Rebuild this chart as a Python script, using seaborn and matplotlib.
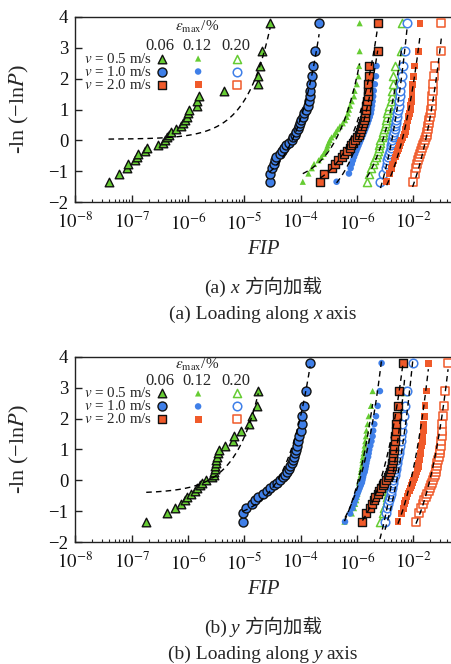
import numpy as np
import pandas as pd
import matplotlib
matplotlib.use("Agg")
import matplotlib.pyplot as plt
import seaborn as sns
from matplotlib.ticker import FixedLocator, FixedFormatter, LogLocator, NullFormatter

sns.set_theme(style="ticks")
plt.rcParams["font.family"] = ["Liberation Serif", "Noto Sans CJK SC"]
plt.rcParams["mathtext.fontset"] = "stix"
plt.rcParams["axes.edgecolor"] = "#222222"
plt.rcParams["axes.linewidth"] = 1.0

# -ln(-ln P) plotting positions (median ranks, 31 specimens)
y_rank = [-1.336, -1.070, -0.898, -0.760, -0.642, -0.534, -0.435, -0.341,
          -0.250, -0.161, -0.074, 0.013, 0.100, 0.187, 0.276, 0.367, 0.460,
          0.556, 0.657, 0.763, 0.876, 0.996, 1.126, 1.268, 1.427, 1.608,
          1.819, 2.076, 2.409, 2.888, 3.792]

speeds = ["0.5", "1.0", "2.0"]
strains = ["0.06", "0.12", "0.20"]

# log10(FIP), loading along x
a_v05_e006 = [-7.41, -7.23, -7.08, -7.07, -6.94, -6.91, -6.89, -6.76, -6.73, -6.54, -6.44,
              -6.40, -6.37, -6.33, -6.30, -6.21, -6.12, -6.08, -6.05, -6.02, -5.99, -5.98,
              -5.84, -5.83, -5.80, -5.36, -4.76, -4.75, -4.72, -4.69, -4.54]
a_v05_e012 = [-3.96, -3.86, -3.80, -3.76, -3.68, -3.63, -3.59, -3.56, -3.53, -3.52, -3.50,
              -3.48, -3.45, -3.40, -3.37, -3.34, -3.30, -3.25, -3.21, -3.18, -3.16, -3.14,
              -3.12, -3.09, -3.05, -3.04, -3.00, -2.97, -2.96, -2.95, -2.95]
a_v05_e020 = [-2.82, -2.78, -2.75, -2.72, -2.69, -2.66, -2.64, -2.62, -2.61, -2.60, -2.59,
              -2.58, -2.56, -2.54, -2.53, -2.51, -2.50, -2.49, -2.48, -2.47, -2.46, -2.44,
              -2.42, -2.40, -2.38, -2.37, -2.36, -2.35, -2.33, -2.21, -2.20]
a_v10_e006 = [-4.55, -4.55, -4.50, -4.48, -4.46, -4.44, -4.36, -4.33, -4.29, -4.25, -4.20,
              -4.16, -4.13, -4.10, -4.08, -4.05, -4.03, -4.01, -3.99, -3.96, -3.93, -3.90,
              -3.87, -3.85, -3.84, -3.83, -3.82, -3.80, -3.77, -3.75, -3.67]
a_v10_e012 = [-3.36, -3.14, -3.11, -3.09, -3.07, -3.05, -3.03, -3.01, -2.99, -2.97, -2.95,
              -2.93, -2.91, -2.89, -2.87, -2.85, -2.83, -2.81, -2.79, -2.77, -2.75, -2.74,
              -2.73, -2.72, -2.71, -2.70, -2.68, -2.66, -2.65, -2.63, -2.63]
a_v10_e020 = [-2.58, -2.53, -2.49, -2.47, -2.46, -2.44, -2.43, -2.41, -2.40, -2.39, -2.38,
              -2.37, -2.36, -2.35, -2.34, -2.33, -2.32, -2.31, -2.30, -2.29, -2.28, -2.27,
              -2.26, -2.25, -2.24, -2.23, -2.22, -2.20, -2.18, -2.14, -2.11]
a_v20_e006 = [-3.65, -3.59, -3.45, -3.39, -3.33, -3.27, -3.22, -3.17, -3.13, -3.10, -3.06,
              -3.03, -3.00, -2.97, -2.95, -2.93, -2.91, -2.89, -2.88, -2.86, -2.85, -2.84,
              -2.83, -2.82, -2.81, -2.81, -2.80, -2.79, -2.79, -2.63, -2.63]
a_v20_e012 = [-2.47, -2.42, -2.38, -2.36, -2.34, -2.32, -2.30, -2.28, -2.26, -2.24, -2.22,
              -2.20, -2.18, -2.16, -2.14, -2.13, -2.12, -2.11, -2.09, -2.08, -2.07, -2.05,
              -2.04, -2.03, -2.02, -2.02, -2.01, -2.00, -1.98, -1.90, -1.88]
a_v20_e020 = [-2.01, -1.97, -1.95, -1.93, -1.91, -1.89, -1.88, -1.86, -1.85, -1.83, -1.81,
              -1.79, -1.78, -1.76, -1.75, -1.74, -1.73, -1.72, -1.71, -1.70, -1.69, -1.68,
              -1.67, -1.67, -1.66, -1.65, -1.64, -1.63, -1.61, -1.50, -1.50]

# log10(FIP), loading along y
b_v05_e006 = [-6.74, -6.38, -6.23, -6.13, -6.05, -6.02, -5.95, -5.87, -5.84, -5.79, -5.75,
              -5.68, -5.58, -5.54, -5.53, -5.52, -5.52, -5.51, -5.50, -5.49, -5.46, -5.44,
              -5.34, -5.20, -5.19, -5.06, -4.91, -4.87, -4.77, -4.75]
b_v05_e012 = [-3.22, -3.09, -3.05, -3.03, -3.01, -3.00, -2.99, -2.98, -2.97, -2.96, -2.96,
              -2.95, -2.94, -2.93, -2.93, -2.92, -2.91, -2.90, -2.90, -2.89, -2.88, -2.87,
              -2.86, -2.85, -2.84, -2.83, -2.81, -2.79, -2.75, -2.72]
b_v05_e020 = [-2.59, -2.54, -2.51, -2.49, -2.47, -2.46, -2.45, -2.44, -2.43, -2.42, -2.41,
              -2.40, -2.39, -2.38, -2.37, -2.36, -2.35, -2.34, -2.33, -2.32, -2.31, -2.30,
              -2.29, -2.28, -2.26, -2.25, -2.24, -2.22, -2.19, -2.15]
b_v10_e006 = [-5.03, -5.03, -4.96, -4.87, -4.81, -4.75, -4.66, -4.60, -4.54, -4.48, -4.42,
              -4.36, -4.31, -4.27, -4.24, -4.20, -4.18, -4.16, -4.14, -4.12, -4.10, -4.08,
              -4.06, -4.04, -4.02, -4.00, -3.98, -3.97, -3.94, -3.90, -3.83]
b_v10_e012 = [-3.21, -3.12, -3.08, -3.05, -3.03, -3.01, -2.99, -2.97, -2.95, -2.93, -2.91,
              -2.90, -2.89, -2.88, -2.86, -2.85, -2.84, -2.83, -2.82, -2.80, -2.79, -2.78,
              -2.76, -2.74, -2.72, -2.71, -2.69, -2.66, -2.63, -2.59, -2.56]
b_v10_e020 = [-2.50, -2.48, -2.46, -2.44, -2.42, -2.41, -2.40, -2.39, -2.38, -2.37, -2.36,
              -2.35, -2.34, -2.33, -2.32, -2.31, -2.30, -2.29, -2.28, -2.27, -2.26, -2.25,
              -2.24, -2.22, -2.21, -2.20, -2.19, -2.17, -2.15, -2.11, -2.00]
b_v20_e006 = [-2.90, -2.84, -2.77, -2.73, -2.70, -2.67, -2.63, -2.60, -2.57, -2.54, -2.51,
              -2.48, -2.45, -2.43, -2.41, -2.39, -2.38, -2.37, -2.36, -2.35, -2.35, -2.34,
              -2.34, -2.33, -2.32, -2.31, -2.30, -2.29, -2.27, -2.26, -2.18]
b_v20_e012 = [-2.27, -2.20, -2.17, -2.15, -2.13, -2.11, -2.09, -2.07, -2.05, -2.03, -2.01,
              -1.99, -1.97, -1.95, -1.93, -1.92, -1.91, -1.90, -1.89, -1.88, -1.87, -1.86,
              -1.85, -1.84, -1.83, -1.82, -1.81, -1.80, -1.79, -1.77, -1.73]
b_v20_e020 = [-1.95, -1.90, -1.86, -1.83, -1.80, -1.77, -1.75, -1.72, -1.70, -1.68, -1.66,
              -1.65, -1.63, -1.62, -1.60, -1.59, -1.58, -1.57, -1.55, -1.54, -1.53, -1.52,
              -1.51, -1.50, -1.49, -1.49, -1.48, -1.47, -1.46, -1.43, -1.38]

# Gumbel fits, -ln(-lnP) = offset + FIP / scale  (order: speed-major, strain-minor)
fit_a_offset = [0.04, -1.46, -2.52, -1.70, -2.35, -4.17, -1.73, -3.11, -3.65]
fit_a_scale = [8.0e-6, 2.84e-4, 1.14e-3, 4.16e-5, 4.46e-4, 1.0e-3, 4.35e-4, 2.04e-3, 4.55e-3]
fit_b_offset = [-0.42, -3.07, -4.86, -1.32, -2.68, -4.19, -2.50, -3.43, -3.24]
fit_b_scale = [5.5e-6, 3.44e-4, 8.67e-4, 2.95e-5, 4.18e-4, 1.22e-3, 1.05e-3, 2.65e-3, 6.1e-3]

xtick_pos = [1e-8, 1e-7, 1e-6, 1e-5, 1e-4, 1e-3, 1e-2]
xtick_labels = [r"$10^{-8}$", r"$10^{-7}$", r"$10^{-6}$", r"$10^{-5}$",
                r"$10^{-4}$", r"$10^{-6}$", r"$10^{-2}$"]

panel_series = {
    "a": [a_v05_e006, a_v05_e012, a_v05_e020, a_v10_e006, a_v10_e012, a_v10_e020,
          a_v20_e006, a_v20_e012, a_v20_e020],
    "b": [b_v05_e006, b_v05_e012, b_v05_e020, b_v10_e006, b_v10_e012, b_v10_e020,
          b_v20_e006, b_v20_e012, b_v20_e020],
}
panel_fits = {"a": (fit_a_offset, fit_a_scale), "b": (fit_b_offset, fit_b_scale)}

rows = []
for panel, series in panel_series.items():
    for k, logs in enumerate(series):
        sp, st = speeds[k // 3], strains[k % 3]
        for lx, yv in zip(logs, y_rank):
            rows.append({"panel": panel, "speed": sp, "strain": st,
                         "fip": 10.0 ** lx, "lnln": yv})
df = pd.DataFrame(rows)

GREEN, BLUE, ORANGE = "#66cc33", "#3f7fe8", "#f05a2a"
speed_color = {"0.5": GREEN, "1.0": BLUE, "2.0": ORANGE}
speed_marker = {"0.5": "^", "1.0": "o", "2.0": "s"}
size_06 = {"0.5": 38, "1.0": 42, "2.0": 40}
size_12 = {"0.5": 20, "1.0": 22, "2.0": 24}
size_20 = {"0.5": 34, "1.0": 38, "2.0": 36}


def marker_style(sp, st):
    c = speed_color[sp]
    if st == "0.06":
        return dict(color=c, edgecolor="#111111", linewidth=1.0, s=size_06[sp])
    if st == "0.12":
        return dict(color=c, edgecolor="none", linewidth=0, s=size_12[sp])
    return dict(color="white", edgecolor=c, linewidth=1.1, s=size_20[sp])


W, H = 452, 664
fig = plt.figure(figsize=(W / 100, H / 100), dpi=100)
fig.patch.set_facecolor("white")
ax_left, ax_w, ax_h = 75.3, W - 75.3, 185.5
axes = {
    "a": fig.add_axes([ax_left / W, 1 - 202.3 / H, ax_w / W, ax_h / H]),
    "b": fig.add_axes([ax_left / W, 1 - 542.2 / H, ax_w / W, ax_h / H]),
}

for panel, ax in axes.items():
    ax.set_xscale("log")
    sub = df[df["panel"] == panel]
    offs, scls = panel_fits[panel]
    for k in range(9):
        sp, st = speeds[k // 3], strains[k % 3]
        d = sub[(sub["speed"] == sp) & (sub["strain"] == st)]
        sns.scatterplot(data=d, x="fip", y="lnln", marker=speed_marker[sp],
                        ax=ax, legend=False, zorder=3 + k * 0.01,
                        **marker_style(sp, st))
    for k in range(9):
        sp, st = speeds[k // 3], strains[k % 3]
        d = sub[(sub["speed"] == sp) & (sub["strain"] == st)]
        grid = np.logspace(np.log10(d["fip"].min()), np.log10(d["fip"].max()), 200)
        curve = offs[k] + grid / scls[k]
        sns.lineplot(x=grid, y=curve, ax=ax, color="black", lw=1.0,
                     linestyle=(0, (4, 3)), sort=False, estimator=None,
                     legend=False, zorder=5)

    ax.set_xlim(1e-8, 10 ** -1.31)
    ax.set_ylim(-2, 4)
    ax.xaxis.set_major_locator(FixedLocator(xtick_pos))
    ax.xaxis.set_major_formatter(FixedFormatter(xtick_labels))
    ax.xaxis.set_minor_locator(LogLocator(base=10, subs=np.arange(2, 10), numticks=30))
    ax.xaxis.set_minor_formatter(NullFormatter())
    ax.set_yticks(range(-2, 5))
    ax.tick_params(axis="both", which="major", direction="in", length=5, width=1,
                   labelsize=13.5, color="#222222", labelcolor="#111111")
    ax.tick_params(axis="x", which="minor", direction="in", length=2.5, width=0.8)
    ax.tick_params(axis="x", which="major", pad=7)
    ax.tick_params(axis="y", which="major", pad=5)
    ax.set_xlabel("")
    ax.set_ylabel("")
    ax.spines["right"].set_visible(False)
    ax.grid(False)

    # strain / speed key
    ty = {"a": [0.943, 0.843, 0.775, 0.705, 0.635],
          "b": [0.957, 0.868, 0.802, 0.732, 0.662]}[panel]
    col_x = [0.230, 0.326, 0.429]
    ax.text(0.323, ty[0], r"$\varepsilon_{\mathrm{max}}$/%", transform=ax.transAxes,
            ha="center", va="center", fontsize=11)
    for cx, st in zip(col_x, strains):
        ax.text(cx - 0.004, ty[1], st, transform=ax.transAxes, ha="center",
                va="center", fontsize=12)
    for r, sp in enumerate(speeds):
        yy = ty[2 + r]
        ax.text(0.204, yy, rf"$v$ = {sp} m/s", transform=ax.transAxes, ha="right",
                va="center", fontsize=10.8)
        for cx, st in zip(col_x, strains):
            stl = marker_style(sp, st)
            ax.scatter([cx], [yy], transform=ax.transAxes, marker=speed_marker[sp],
                       c=stl["color"], edgecolors=stl["edgecolor"],
                       linewidths=stl["linewidth"], s=stl["s"], zorder=6,
                       clip_on=False)

    top_px = {"a": 16.8, "b": 356.7}[panel]
    fig.text(19 / W, 1 - (top_px + ax_h / 2) / H, r"-ln (−ln$P$)", rotation=90,
             ha="center", va="center", fontsize=16)
    fig.text(263 / W, 1 - (top_px + ax_h + 47) / H, "FIP", style="italic",
             ha="center", va="center", fontsize=15)


def caption(center_px, baseline_px, pieces, size=14):
    renderer = fig.canvas.get_renderer()
    arts, widths = [], []
    for txt, kw, gap in pieces:
        t = fig.text(0, 1 - baseline_px / H, txt, fontsize=size, ha="left",
                     va="baseline", **kw)
        arts.append((t, gap))
        widths.append(t.get_window_extent(renderer).width)
    total = sum(widths) + sum(g for _, g in arts)
    x = center_px - total / 2
    for (t, gap), w in zip(arts, widths):
        t.set_x(x / W)
        x += w + gap


fig.canvas.draw()
serif = {"family": ["Liberation Serif"]}
serif_it = {"family": ["Liberation Serif"], "style": "italic"}
cjk = {"family": ["Noto Sans CJK SC"]}
for tag, ax_dir, base1, base2 in [("a", "x", 293, 319), ("b", "y", 633, 659)]:
    caption(263, base1, [(f"({tag})", serif, 4), (ax_dir, serif_it, 5), ("方向加载", cjk, 0)])
    caption(263, base2, [(f"({tag}) Loading along", serif, 4), (ax_dir, serif_it, 4),
                         ("axis", serif, 0)])

fig.savefig("out.png", dpi=100, facecolor="white")
